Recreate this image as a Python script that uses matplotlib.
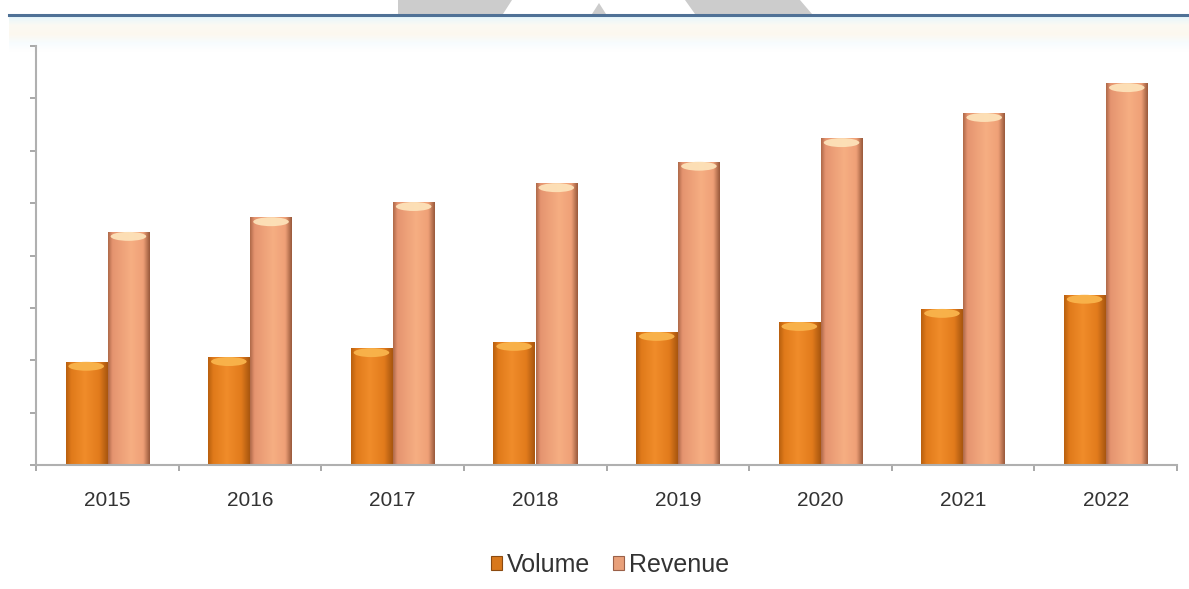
import numpy as np
import matplotlib
matplotlib.use("Agg")
import matplotlib.pyplot as plt
from matplotlib.patches import Patch, Ellipse, Polygon
from matplotlib.colors import LinearSegmentedColormap

years = ["2015", "2016", "2017", "2018", "2019", "2020", "2021", "2022"]
volume = [1.97, 2.06, 2.23, 2.35, 2.54, 2.73, 2.98, 3.25]
revenue = [4.45, 4.73, 5.02, 5.38, 5.79, 6.24, 6.72, 7.29]
series_names = ["Volume", "Revenue"]

W, H = 1189, 589
fig = plt.figure(figsize=(W / 100, H / 100), dpi=100)
fig.patch.set_facecolor("white")

# header decoration: blue rule with faint band and grey watermark shapes
def fx(x):
    return x / W
def fy(y):
    return 1 - y / H

for poly in [[(398, 0), (512, 0), (503, 14), (398, 14)],
             [(599, 3), (606, 14), (592, 14)],
             [(685, 0), (800, 0), (812, 14), (695, 14)]]:
    fig.patches.append(Polygon([(fx(a), fy(b)) for a, b in poly], closed=True,
                               transform=fig.transFigure, facecolor="#cccccc",
                               edgecolor="none"))
band = np.linspace(0, 1, 40).reshape(-1, 1)
band_cmap = LinearSegmentedColormap.from_list(
    "band", ["#e6f6fb", "#fbfaf3", "#fdf8ef", "#f7fcfe", "#ffffff"])
bax = fig.add_axes([fx(9), fy(52), 1 - fx(9), (52 - 16) / H])
bax.imshow(band, aspect="auto", cmap=band_cmap, extent=[0, 1, 1, 0])
bax.axis("off")
fig.add_artist(plt.Line2D([fx(9), 1], [fy(15), fy(15)], transform=fig.transFigure,
                          color="#4f7196", lw=2.2))

ax = fig.add_axes([fx(36), fy(465), fx(1177) - fx(36), (465 - 46) / H])
ax.set_facecolor("none")
x = np.arange(len(years))
bw = 0.29
off = 0.148

cmap_vol = LinearSegmentedColormap.from_list(
    "vol", [(0, "#b9600f"), (0.12, "#e07a1a"), (0.45, "#f08c2a"), (0.8, "#e27b1c"), (1, "#a8560f")])
cmap_rev = LinearSegmentedColormap.from_list(
    "rev", [(0, "#b06a4a"), (0.1, "#e59470"), (0.55, "#f6ae82"), (0.85, "#efa077"), (1, "#9a5a3c")])
grad = np.linspace(0, 1, 64).reshape(1, -1)

cap_h = 0.17
for vals, pos, cmap, cap_col, name in [
        (volume, x - off, cmap_vol, "#f9b44c", "Volume"),
        (revenue, x + off, cmap_rev, "#fde2b9", "Revenue")]:
    bars = ax.bar(pos, vals, width=bw, facecolor="none", edgecolor="none", label=name)
    for b in bars:
        x0, w, h = b.get_x(), b.get_width(), b.get_height()
        im = ax.imshow(grad, aspect="auto", cmap=cmap, extent=[x0, x0 + w, 0, h],
                       zorder=2, interpolation="bicubic")
        im.set_clip_path(b)
        e = Ellipse((x0 + w / 2, h - cap_h / 2), w * 0.86, cap_h,
                    facecolor=cap_col, edgecolor="none", zorder=3, alpha=0.95)
        ax.add_patch(e)

ax.set_xlim(-0.5, len(years) - 0.5)
ax.set_ylim(0, 8)
ax.set_xticks(x)
ax.set_xticklabels(years, fontsize=15, color="#333333", family="Liberation Sans")
ax.set_xticks(np.arange(-0.5, len(years), 1), minor=True)
ax.tick_params(axis="x", which="major", length=0, pad=19)
ax.tick_params(axis="x", which="minor", length=4, direction="out", color="#9a9a9a", width=1.2)
ax.set_yticks(np.arange(0, 9, 1))
ax.set_yticklabels([])
ax.tick_params(axis="y", length=4, direction="out", color="#9a9a9a", width=1.2)
for s in ["top", "right"]:
    ax.spines[s].set_visible(False)
for s in ["left", "bottom"]:
    ax.spines[s].set_color("#b0b0b0")
    ax.spines[s].set_linewidth(1.5)

handles = [Patch(facecolor="#d8781c", edgecolor="#8b4a10", lw=0.8),
           Patch(facecolor="#e8a07a", edgecolor="#9a6048", lw=0.8)]
fig.legend(handles, series_names, loc="center", bbox_to_anchor=(fx(610), fy(565)),
           ncol=2, frameon=False, fontsize=18, handlelength=0.45, handleheight=0.45,
           handletextpad=0.2, columnspacing=0.9,
           prop={"family": "Liberation Sans", "size": 18})
for t in fig.legends[0].get_texts():
    t.set_color("#333333")

fig.savefig("out.png", dpi=100)
